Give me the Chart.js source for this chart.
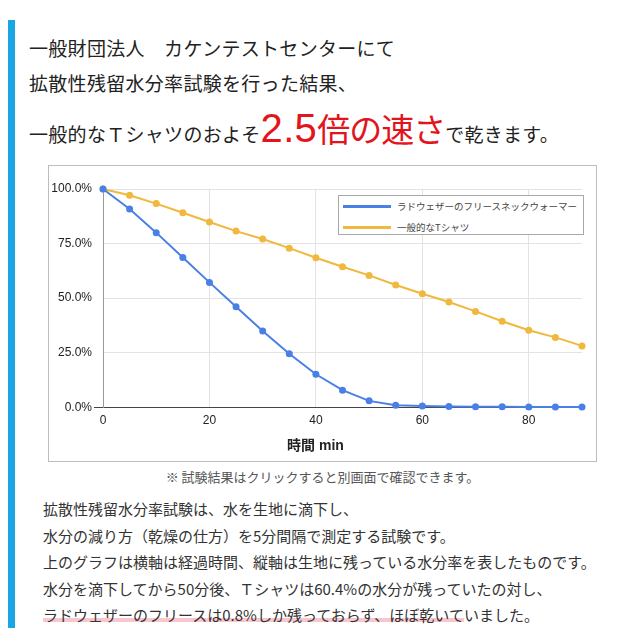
<!DOCTYPE html>
<html lang="ja">
<head>
<meta charset="utf-8">
<title>拡散性残留水分率試験</title>
<script src="https://cdn.jsdelivr.net/npm/chart.js@4.4.1/dist/chart.umd.min.js"></script>
<style>
  body { margin: 0; background: #fff; width: 640px; height: 640px; overflow: hidden; position: relative;
         font-family: "Noto Sans CJK JP", sans-serif; color: #222; }
  .bar { position: absolute; left: 8px; top: 20px; width: 7px; height: 608px; background: #19a6e2; }
  .head { position: absolute; left: 29px; font-size: 19px; letter-spacing: 0.3px; line-height: 20px; white-space: nowrap; }
  .big { color: #e3141c; }
  .big .num { font-family: "Liberation Sans", sans-serif; font-size: 40px; }
  .big .jp { font-size: 33px; letter-spacing: -1px; }
  .box { position: absolute; left: 48px; top: 165px; width: 547px; height: 295px; border: 1px solid #bdbdbd; }
  #chart { display: block; }
  .legend { position: absolute; left: 289px; top: 29px; width: 244px; height: 38px; border: 1px solid #a8a8a8;
            background: #fff; font-size: 9.5px; color: #444; }
  .legend div { position: absolute; left: 58px; white-space: nowrap; line-height: 12px; }
  .legend span { position: absolute; width: 48px; height: 3px; }
  .note { position: absolute; left: 48px; top: 467px; width: 549px; text-align: center; font-size: 13px; color: #555; }
  .text { position: absolute; left: 43px; top: 496px; font-size: 15px; line-height: 26.5px; color: #333; white-space: nowrap; }
  .mark { background: linear-gradient(transparent 66%, #f8c7ce 66%, #f8c7ce 86%, transparent 86%); }
</style>
</head>
<body>
<div class="bar"></div>
<div class="head" style="top:38px">一般財団法人　カケンテストセンターにて</div>
<div class="head" style="top:73px">拡散性残留水分率試験を行った結果、</div>
<div class="head" style="top:108px; line-height:40px">一般的なＴシャツのおよそ<span class="big"><span class="num">2.5</span><span class="jp">倍の速さ</span></span>で乾きます。</div>

<div class="box">
  <canvas id="chart" width="547" height="295"></canvas>
  <div class="legend" id="legend"></div>
</div>
<div class="note">※ 試験結果はクリックすると別画面で確認できます。</div>
<div class="text">拡散性残留水分率試験は、水を生地に滴下し、<br>水分の減り方（乾燥の仕方）を5分間隔で測定する試験です。<br>上のグラフは横軸は経過時間、縦軸は生地に残っている水分率を表したものです。<br>水分を滴下してから50分後、Ｔシャツは60.4%の水分が残っていたの対し、<br><span class="mark">ラドウェザーのフリースは0.8%しか残っておらず、ほぼ乾いて</span>いました。</div>

<script>
const minutes = [0, 5, 10, 15, 20, 25, 30, 35, 40, 45, 50, 55, 60, 65, 70, 75, 80, 85, 90];
const fleeceValues = [100, 90.8, 80.0, 68.6, 57.2, 46.0, 34.9, 24.5, 15.1, 7.8, 2.9, 0.9, 0.5, 0.3, 0.2, 0.2, 0.1, 0.1, 0.1];
const tshirtValues = [100, 97.1, 93.3, 89.1, 84.9, 80.7, 77.1, 72.9, 68.5, 64.4, 60.4, 56.0, 52.0, 48.2, 43.9, 39.4, 35.3, 32.0, 28.1];
const seriesLabels = ["ラドウェザーのフリースネックウォーマー", "一般的なTシャツ"];
const seriesColors = ["#4a80e6", "#f0b83c"];
const xTicks = [0, 20, 40, 60, 80];
const yTicks = [0, 25, 50, 75, 100];
const axisTitle = "時間 min";

const tickFont = { family: '"Liberation Sans", Arial, sans-serif', size: 12 };

// Turn the value arrays into x/y points
function toPoints(values) {
  return minutes.map((m, i) => ({ x: m, y: values[i] }));
}

function makeDataset(values, idx) {
  return {
    label: seriesLabels[idx],
    data: toPoints(values),
    borderColor: seriesColors[idx],
    backgroundColor: seriesColors[idx],
    borderWidth: 2,
    pointRadius: 3.5,
    pointBorderWidth: 0,
    tension: 0,
    clip: false,
  };
}

// Legend box drawn from the same labels/colours
function buildLegend() {
  const legend = document.getElementById("legend");
  seriesLabels.forEach((label, i) => {
    const y = 10 + i * 21;
    const line = document.createElement("span");
    line.style.left = "4px";
    line.style.top = (y - 1) + "px";
    line.style.background = seriesColors[i];
    const text = document.createElement("div");
    text.style.top = (y - 6) + "px";
    text.textContent = label;
    legend.appendChild(line);
    legend.appendChild(text);
  });
}

const gridColor = (ctx) => (ctx.tick && ctx.tick.value === 0 ? "rgba(0,0,0,0)" : "#e3e3e3");

new Chart(document.getElementById("chart").getContext("2d"), {
  type: "line",
  data: {
    datasets: [makeDataset(fleeceValues, 0), makeDataset(tshirtValues, 1)],
  },
  options: {
    responsive: false,
    animation: false,
    layout: { padding: { top: 23, right: 14, left: 0, bottom: 0 } },
    plugins: {
      legend: { display: false },
      tooltip: { enabled: false },
      title: {
        display: true,
        position: "bottom",
        text: axisTitle,
        color: "#222",
        font: { family: '"Liberation Sans", "Noto Sans CJK JP", sans-serif', size: 14, weight: "bold" },
        padding: { top: 0, bottom: 6 },
      },
    },
    scales: {
      x: {
        type: "linear",
        min: 0,
        max: 90,
        afterBuildTicks: (scale) => { scale.ticks = xTicks.map((v) => ({ value: v })); },
        afterFit: (scale) => { scale.height = 31; },
        ticks: { color: "#222", font: tickFont, padding: 6, maxRotation: 0 },
        grid: { color: gridColor, drawTicks: false },
        border: { color: "#444", width: 1 },
      },
      y: {
        min: 0,
        max: 100,
        afterBuildTicks: (scale) => { scale.ticks = yTicks.map((v) => ({ value: v })); },
        afterFit: (scale) => { scale.width = 54; },
        ticks: { color: "#222", font: tickFont, padding: 2, callback: (v) => v.toFixed(1) + "%" },
        grid: {
          color: gridColor,
          drawTicks: true,
          tickLength: 9,
          tickColor: (ctx) => (ctx.tick && ctx.tick.value === 0 ? "#444" : "rgba(0,0,0,0)"),
        },
        border: { color: "#999", width: 1 },
      },
    },
  },
});

buildLegend();
</script>
</body>
</html>
